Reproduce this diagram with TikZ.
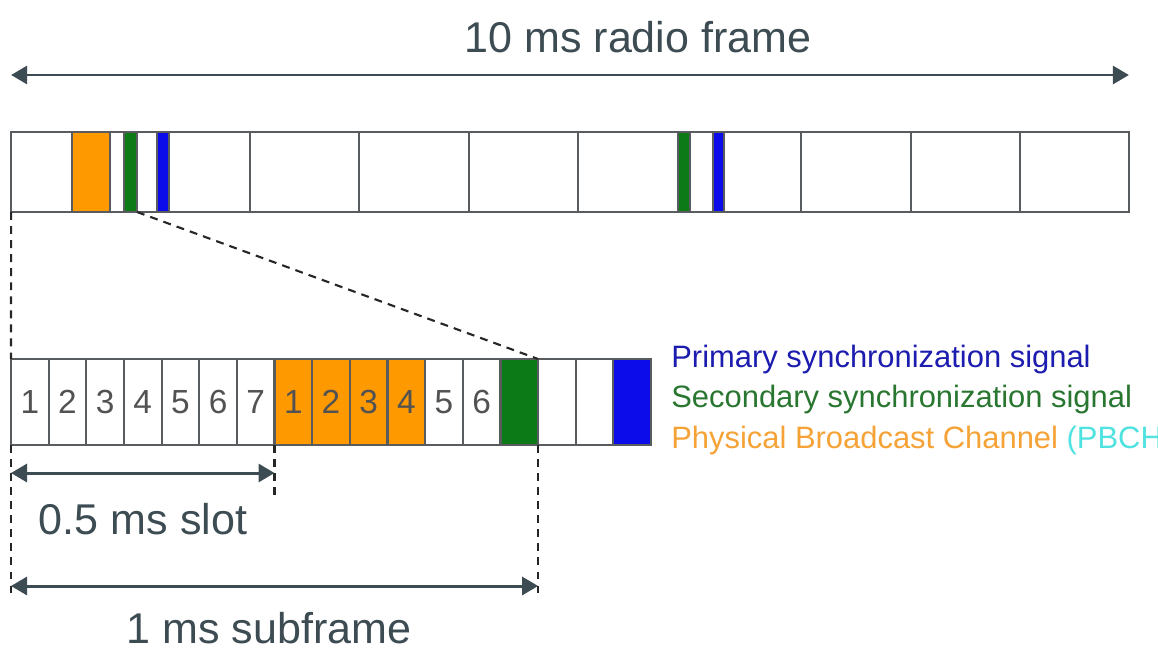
\documentclass[tikz,border=0pt]{standalone}
\usepackage{fontspec}
\setmainfont{Liberation Sans}
\usetikzlibrary{arrows.meta,positioning}
\definecolor{pbch}{RGB}{255,153,0}
\definecolor{sss}{RGB}{12,122,22}
\definecolor{pss}{RGB}{12,12,235}
\definecolor{boxgray}{RGB}{88,92,95}
\definecolor{dimgray}{RGB}{60,76,82}
\definecolor{psstext}{RGB}{28,28,175}
\definecolor{ssstext}{RGB}{40,118,48}
\definecolor{pbchtext}{RGB}{245,162,55}
\definecolor{cyantext}{RGB}{80,225,225}
\begin{document}
\begin{tikzpicture}[x=0.02cm,y=-0.02cm,
  boxline/.style={draw=boxgray,line width=1.2pt},
  cell/.style={boxline,minimum width=0.753cm,minimum height=1.72cm,
    inner sep=0pt,outer sep=0pt,text=black!68,
    font=\fontsize{19}{22}\selectfont},
  bar/.style={boxline,line width=0.6pt,inner sep=0pt,outer sep=0pt,
    minimum height=1.6cm},
  zoomline/.style={dash pattern=on 4.5pt off 3.5pt,line width=1.2pt,black!85},
  dimline/.style={dimgray,line width=1.7pt,
    {Triangle[length=0.32cm,width=0.36cm]}-{Triangle[length=0.32cm,width=0.36cm]}},
  biglabel/.style={text=dimgray,anchor=base,inner sep=0pt,
    font=\fontsize{24.5}{28}\selectfont},
  legend/.style={anchor=base west,inner sep=0pt,
    font=\fontsize{17.6}{21}\selectfont}]
 \useasboundingbox (0,0) rectangle (1158,649);
 \node[boxline,minimum width=22.36cm,minimum height=1.6cm,inner sep=0pt,
       outer sep=0pt] (frame) at (570,172) {};
 \foreach \x in {250,359,469,578,801,911,1020}
  \draw[boxline] (\x,132) -- (\x,212);
 \node[bar,fill=pbch,minimum width=0.76cm] (p1) at (91,172) {};
 \node[bar,fill=sss,minimum width=0.26cm] (g1) at (130.5,172) {};
 \node[bar,fill=pss,minimum width=0.24cm] (b1) at (163,172) {};
 \node[bar,fill=sss,minimum width=0.24cm] (g2) at (684,172) {};
 \node[bar,fill=pss,minimum width=0.22cm] (b2) at (718.5,172) {};
 \foreach \i/\f/\t in {1/white/1,2/white/2,3/white/3,4/white/4,5/white/5,
    6/white/6,7/white/7,8/pbch/1,9/pbch/2,10/pbch/3,11/pbch/4,12/white/5,
    13/white/6,14/sss/{},15/white/{},16/white/{},17/pss/{}}
  \node[cell,fill=\f] (c\i) at ({11+(\i-0.5)*37.65},402) {\t};
 \draw[zoomline] (frame.south west) -- (c1.north west);
 \draw[zoomline] (g1.south east) -- (c14.north east);
 \coordinate (slotL) at (c1.south west |- 0,473);
 \coordinate (slotR) at (c7.south east |- 0,473);
 \coordinate (subL) at (c1.south west |- 0,586);
 \coordinate (subR) at (c14.south east |- 0,586);
 \coordinate (fullL) at (frame.north west |- 0,75);
 \coordinate (fullR) at (frame.north east |- 0,75);
 \draw[zoomline] (c1.south west) -- (c1.south west |- 0,596);
 \draw[zoomline] (c7.south east) -- (c7.south east |- 0,496);
 \draw[zoomline] (c14.south east) -- (c14.south east |- 0,593);
 \draw[dimline] (fullL) -- (fullR);
 \draw[dimline] (slotL) -- (slotR);
 \draw[dimline] (subL) -- (subR);
 \node[biglabel] (frameLbl) at (638,52) {10 ms radio frame};
 \node[biglabel] (slotLbl) at (143,534) {0.5 ms slot};
 \node[biglabel] (subLbl) at (269,643) {1 ms subframe};
 \node[legend,text=psstext] (pssLbl) at (671,367) {Primary synchronization signal};
 \node[legend,text=ssstext] (sssLbl) at (671,407) {Secondary synchronization signal};
 \node[legend,text=pbchtext] (pbchLbl) at (671,448)
   {Physical Broadcast Channel \textcolor{cyantext}{(PBCH)}};
\end{tikzpicture}
\end{document}
